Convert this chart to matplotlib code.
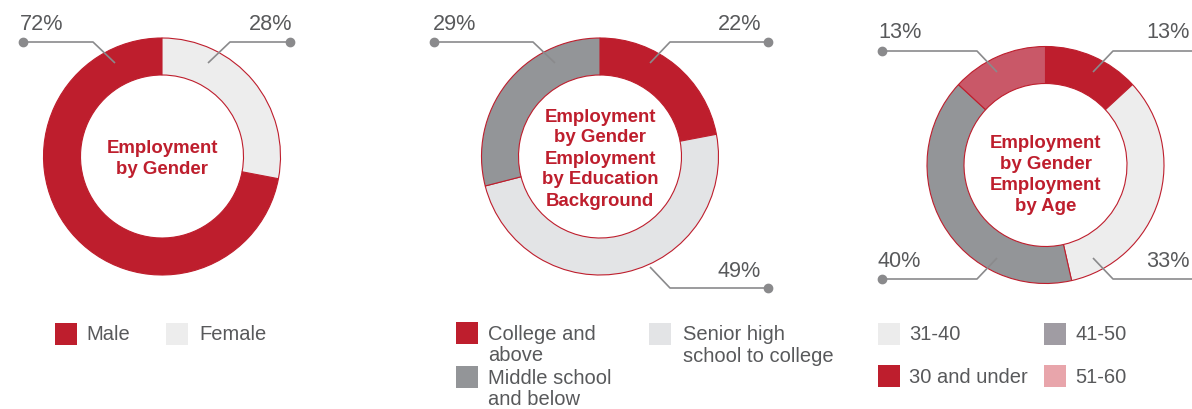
import matplotlib
matplotlib.use("Agg")
import matplotlib.pyplot as plt
from matplotlib.patches import Rectangle

plt.rcParams['font.family'] = ['Liberation Sans', 'DejaVu Sans']

W, H = 1192, 409

RED = '#be1e2d'
TXT = '#58595b'
LEAD = '#8a8a8c'

# ---- data ----
gender_labels = ['Male', 'Female']
gender_values = [72, 28]
gender_colors = [RED, '#ededed']

edu_labels = ['College and\nabove', 'Senior high\nschool to college', 'Middle school\nand below']
edu_values = [22, 49, 29]
edu_colors = [RED, '#e3e4e6', '#939598']

age_labels = ['30 and under', '31-40', '41-50', '51-60']
age_values = [13, 33, 40, 13]
age_colors = [RED, '#ededed', '#939598', '#c95868']
age_legend_colors = [RED, '#ececec', '#a09ca3', '#e8a5ab']

titles = ['Employment\nby Gender',
          'Employment\nby Gender\nEmployment\nby Education\nBackground',
          'Employment\nby Gender\nEmployment\nby Age']

fig = plt.figure(figsize=(W / 100, H / 100), dpi=100)
ax = fig.add_axes([0, 0, 1, 1])


def Y(y):
    return H - y


R_OUT = 118.5
RING = 37


def donut(cx, cy, values, colors, counterclock):
    ax.pie(values, colors=colors, startangle=90, counterclock=counterclock,
           center=(cx, Y(cy)), radius=R_OUT,
           wedgeprops=dict(width=RING, edgecolor=RED, linewidth=0.8))


def center_text(cx, cy, text):
    lines = text.split('\n')
    n = len(lines)
    sp, cap = 21, 13
    b0 = cy - ((n - 1) * sp + cap) / 2 + cap
    for i, ln in enumerate(lines):
        ax.text(cx, Y(b0 + i * sp), ln, ha='center', va='baseline',
                fontsize=13.4, fontweight='bold', color=RED)


def leader(pts, dot=True):
    xs = [p[0] for p in pts]
    ys = [Y(p[1]) for p in pts]
    ax.plot(xs, ys, color=LEAD, lw=1.2, solid_capstyle='butt', zorder=5)
    if dot:
        ax.plot(xs[0], ys[0], 'o', color=LEAD, ms=6, zorder=6)


def pct(x, y, v, ha):
    ax.text(x, Y(y), f'{v}%', ha=ha, va='baseline', fontsize=15.6, color=TXT)


def legend_item(x, y, color, label, gap=31):
    ax.add_patch(Rectangle((x, Y(y + 22)), 22, 22, facecolor=color,
                           edgecolor='none'))
    for i, ln in enumerate(label.split('\n')):
        ax.text(x + gap, Y(y + 18 + i * 21), ln, ha='left', va='baseline',
                fontsize=14.5, color=TXT)


# ---- chart 1: gender ----
donut(162, 156.5, gender_values, gender_colors, True)
center_text(162, 157, titles[0])
pct(20, 30, gender_values[0], 'left')
leader([(23, 42), (93, 42), (115, 63)])
pct(292, 30, gender_values[1], 'right')
leader([(290, 42), (230, 42), (208, 63)])
legend_item(55, 322.5, gender_colors[0], gender_labels[0])
legend_item(166, 322.5, gender_colors[1], gender_labels[1], gap=33)

# ---- chart 2: education ----
donut(600, 156.5, edu_values, edu_colors, False)
center_text(600, 157, titles[1])
pct(433, 30, edu_values[2], 'left')
leader([(434, 42), (533, 42), (555, 63)])
pct(761, 30, edu_values[0], 'right')
leader([(768, 42), (670, 42), (650, 63)])
pct(761, 277, edu_values[1], 'right')
leader([(768, 288), (670, 288), (650, 267)])
edu_slots = [(456, 322), (649, 322.5), (456, 366)]
edu_gaps = [32, 34, 32]
for (lx, ly), c, lab, g in zip(edu_slots, edu_colors, edu_labels, edu_gaps):
    legend_item(lx, ly, c, lab, gap=g)

# ---- chart 3: age ----
donut(1045.5, 165, age_values, age_colors, False)
center_text(1045.5, 173, titles[2])
pct(878, 38, age_values[3], 'left')
leader([(882, 51), (977, 51), (997, 72)])
pct(1146, 38, age_values[0], 'left')
leader([(1200, 51), (1113, 51), (1093, 72)], dot=False)
pct(878, 267, age_values[2], 'left')
leader([(882, 279), (977, 279), (997, 258)])
pct(1146, 267, age_values[1], 'left')
leader([(1200, 279), (1113, 279), (1093, 258)], dot=False)
age_slots = [(878, 365), (878, 322.5), (1044, 322.5), (1044, 365)]
for (lx, ly), c, lab in zip(age_slots, age_legend_colors, age_labels):
    legend_item(lx, ly, c, lab)

ax.set_xlim(0, W)
ax.set_ylim(0, H)
ax.set_aspect('auto')
ax.axis('off')

fig.savefig('out.png', dpi=100)
